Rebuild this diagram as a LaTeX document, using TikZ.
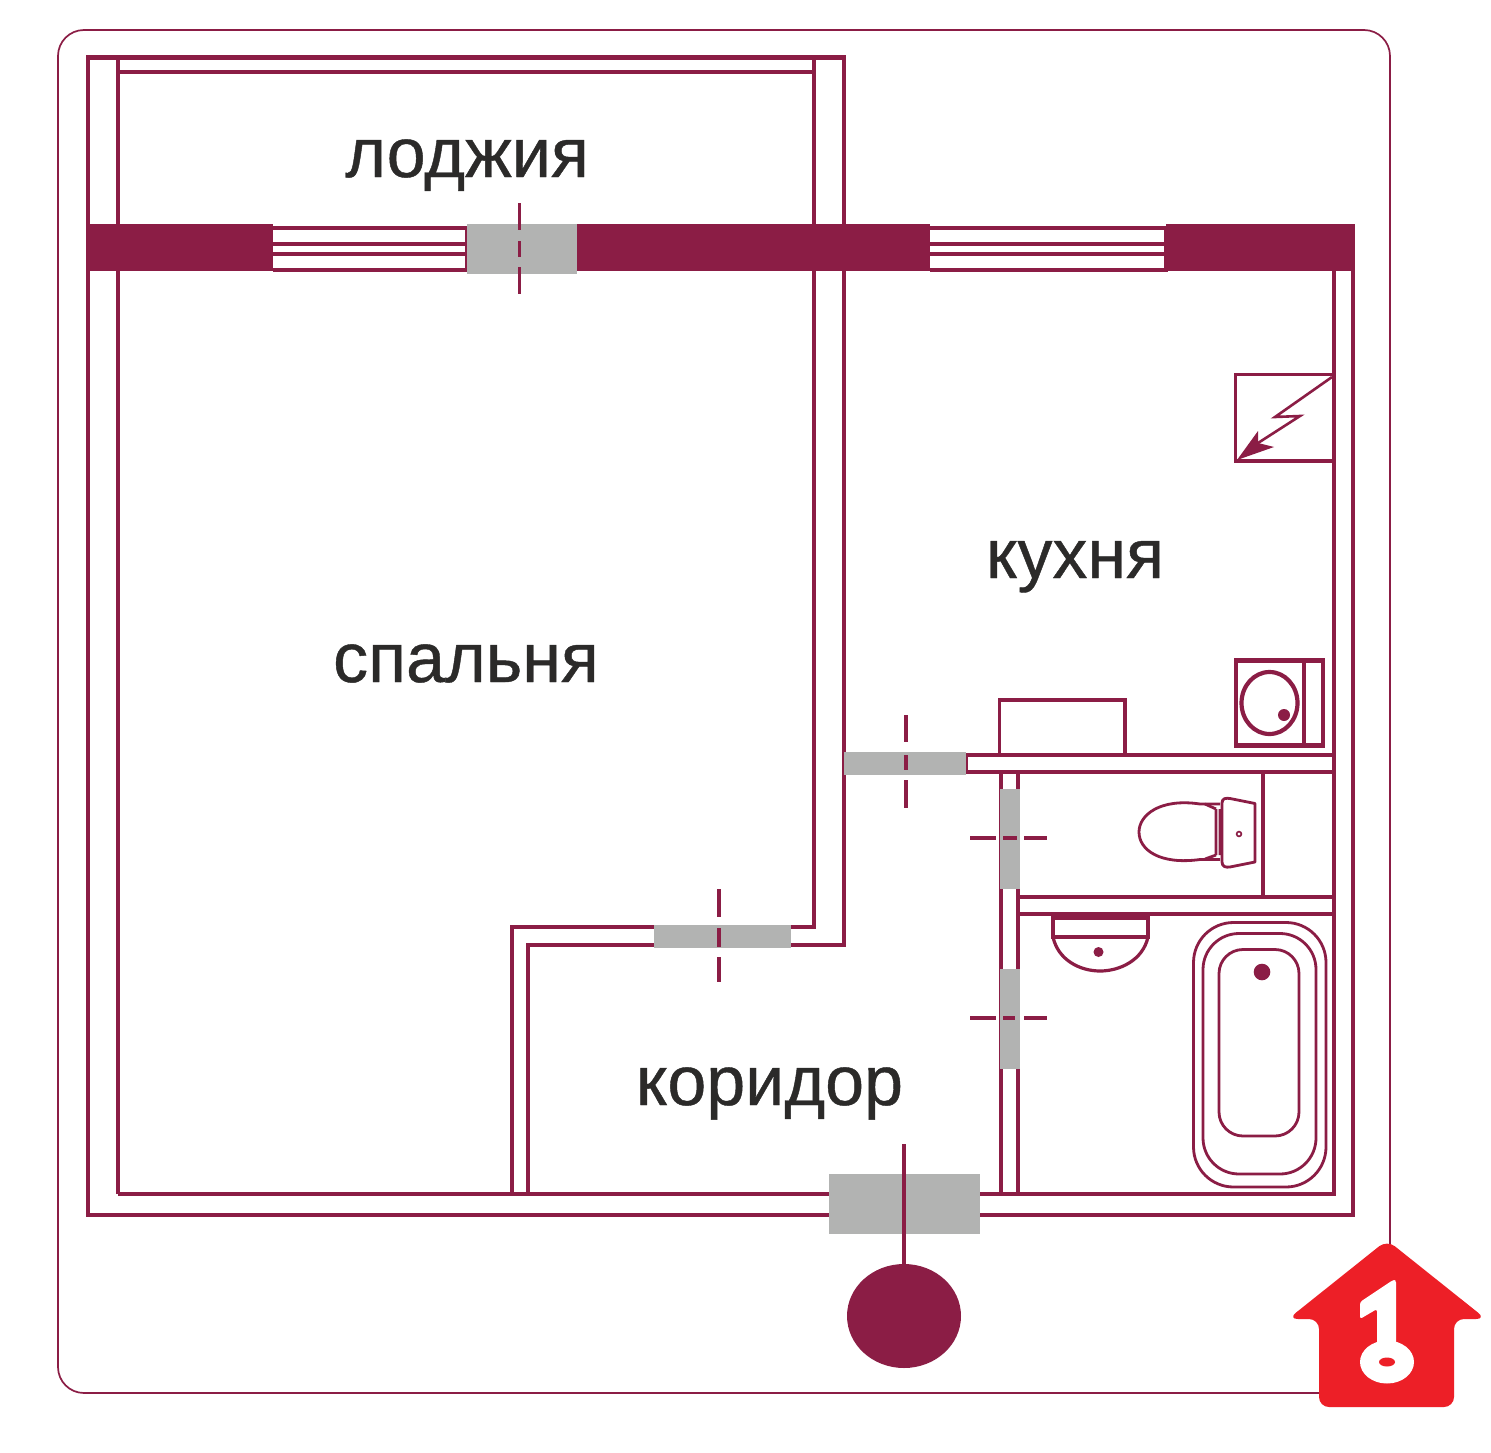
\documentclass[tikz,border=0pt]{standalone}
\usepackage{fontspec}
\setmainfont{Liberation Sans}
\newfontfamily\roomfont[FakeBold=0.6]{Liberation Sans}
\definecolor{wall}{HTML}{8B1D45}
\definecolor{doorgray}{HTML}{B2B3B2}
\definecolor{logored}{HTML}{ED1F27}
\definecolor{ink}{HTML}{2B2A29}
\tikzset{
  wl/.style={draw=wall,line width=4.2pt,line cap=butt},
  thin wl/.style={draw=wall,line width=3.2pt},
  fixture/.style={draw=wall,line width=2.8pt,line join=round},
  door/.style={fill=doorgray,draw=none},
  solid wall/.style={fill=wall,draw=none},
  cut/.style={draw=wall,line width=3.2pt},
  room/.style={font=\roomfont\fontsize{70}{70}\selectfont,text=ink,anchor=base,inner sep=0pt},
  winline/.style={draw=wall,line width=3.6pt},
}
\begin{document}
\begin{tikzpicture}[x=1pt,y=-1pt]
\useasboundingbox (0,0) rectangle (1491,1453);
\fill[white] (0,0) rectangle (1491,1453);
% frame
\draw[wall,line width=1.7pt,rounded corners=26pt] (58,30) rectangle (1390,1393);
% loggia
\draw[wl] (88,57) -- (88,1217);
\draw[wl] (118,57) -- (118,1194);
\draw[wl] (86,57.5) -- (846,57.5);
\draw[wl] (118,72) -- (814,72);
\draw[wl] (814,57) -- (814,929);
\draw[wl] (844,57) -- (844,947);
% bottom and right walls
\draw[wl] (86,1215) -- (1355,1215);
\draw[wl] (118,1194) -- (1336,1194);
\draw[wl] (1334,271) -- (1334,1194);
\draw[wl] (1353,271) -- (1353,1217);
% corridor walls
\draw[wl] (510,927) -- (814,927);
\draw[wl] (512,925) -- (512,1194);
\draw[wl] (526,945) -- (846,945);
\draw[wl] (528,945) -- (528,1194);
% kitchen / bath walls
\draw[wl] (966,755) -- (1334,755);
\draw[wl] (966,772) -- (1334,772);
\draw[wl] (966,753) -- (966,774);
\draw[wl] (1001,772) -- (1001,1194);
\draw[wl] (1018,772) -- (1018,1194);
\draw[wl] (1018,897) -- (1334,897);
\draw[wl] (1018,914) -- (1334,914);
\draw[wl] (1263,772) -- (1263,897);
% thick band
\fill[solid wall] (86,224) rectangle (273,271);
\fill[solid wall] (577,224) rectangle (930,271);
\fill[solid wall] (1166,224) rectangle (1355,271);
% windows
\foreach \a/\b in {273/467,930/1166}{
  \foreach \yy in {228,244,254,270}{\draw[winline] (\a,\yy) -- (\b,\yy);}
  \draw[winline] (\b,226.5) -- (\b,271.5);
}
% doors
\fill[door] (467,224) rectangle (577,274);
\fill[door] (654,925) rectangle (791,948);
\fill[door] (844,752) rectangle (966,775);
\fill[door] (999.5,789) rectangle (1019.5,889);
\fill[door] (999.5,969) rectangle (1019.5,1069);
\fill[door] (829,1174) rectangle (980,1234);
% door marks
\draw[cut] (519.5,203) -- (519.5,230) (519.5,241) -- (519.5,257) (519.5,267) -- (519.5,294);
\draw[cut] (719,889) -- (719,917) (719,928) -- (719,947) (719,957) -- (719,982);
\draw[cut] (906,715) -- (906,742) (906,755) -- (906,770) (906,780) -- (906,808);
\draw[cut] (970,838) -- (996,838) (1003,838) -- (1017,838) (1024,838) -- (1047,838);
\draw[cut] (970,1018) -- (996,1018) (1003,1018) -- (1015,1018) (1024,1018) -- (1047,1018);
% entrance
\draw[wall,line width=4.6pt] (904,1144) -- (904,1270);
\fill[wall] (904,1316) ellipse [x radius=57,y radius=52];
% table
\draw[thin wl] (999.5,755) -- (999.5,700) -- (1125,700) -- (1125,755);
% boiler
\draw[wl] (1236,660.5) rectangle (1323,745.5);
\draw[wl] (1304,660) -- (1304,746);
\draw[wl] (1269.5,703) ellipse [x radius=28,y radius=31];
\fill[wall] (1284,715) circle (6);
% meter box
\draw[thin wl] (1334,374.5) -- (1235.5,374.5) -- (1235.5,461) -- (1334,461);
\draw[draw=wall,line width=2.6pt,line join=miter] (1332,377) -- (1275,417) -- (1300,416) -- (1258,443);
\fill[wall] (1237,460) -- (1258,431) -- (1258,443) -- (1274,447) -- cycle;
% toilet
\draw[fixture] (1220,804) -- (1200,804) .. controls (1160,798) and (1139,815) .. (1139,832)
  .. controls (1139,850) and (1160,865) .. (1200,859.5) -- (1220,859.5);
\draw[fixture] (1216,809) -- (1216,855) (1220,809) -- (1220,855) (1205,804) -- (1216,809) (1205,859) -- (1216,855);
\draw[fixture] (1222,803) .. controls (1222,798) and (1226,798) .. (1230,798.5) -- (1255,803.5) -- (1255,862)
  -- (1230,867) .. controls (1226,867.5) and (1222,867) .. (1222,862) -- cycle;
\draw[wall,line width=1.6pt] (1239,834) circle (2.4);
% sink
\draw[wl,line width=3.2pt] (1053,918) rectangle (1148,937);
\draw[fixture,line width=3.2pt] (1053,937) .. controls (1058,960) and (1080,971) .. (1100,971)
  .. controls (1120,971) and (1143,960) .. (1148,937);
\fill[wall] (1098.5,952) circle (5);
% bath
\draw[fixture,rounded corners=40pt] (1193.5,922.5) rectangle (1326,1187);
\draw[fixture,rounded corners=36pt] (1203,933.5) rectangle (1316,1174);
\draw[fixture,rounded corners=24pt] (1219,949.5) rectangle (1299,1136);
\fill[wall] (1262,972) circle (8.3);
% labels
\node[room] (loggia) at (467,177) {лоджия};
\node[room] (kitchen) at (1075,578) {кухня};
\node[room] (bedroom) at (466,682) {спальня};
\node[room] (corridor) at (769.5,1105) {коридор};
% logo
\fill[logored,rounded corners=10pt] (1387,1240) -- (1486,1319) -- (1454,1319) -- (1454,1407) -- (1319,1407) -- (1319,1319) -- (1288,1319) -- cycle;
\fill[white,rounded corners=2.5pt] (1396,1280) -- (1393,1280) -- (1360,1302) -- (1360,1319) -- (1377,1309) -- (1377,1350) -- (1396,1350) -- cycle;
\fill[white] (1387,1362) ellipse [x radius=27,y radius=21.5];
\fill[logored] (1387,1362) ellipse [x radius=8,y radius=4.5];
\end{tikzpicture}
\end{document}
